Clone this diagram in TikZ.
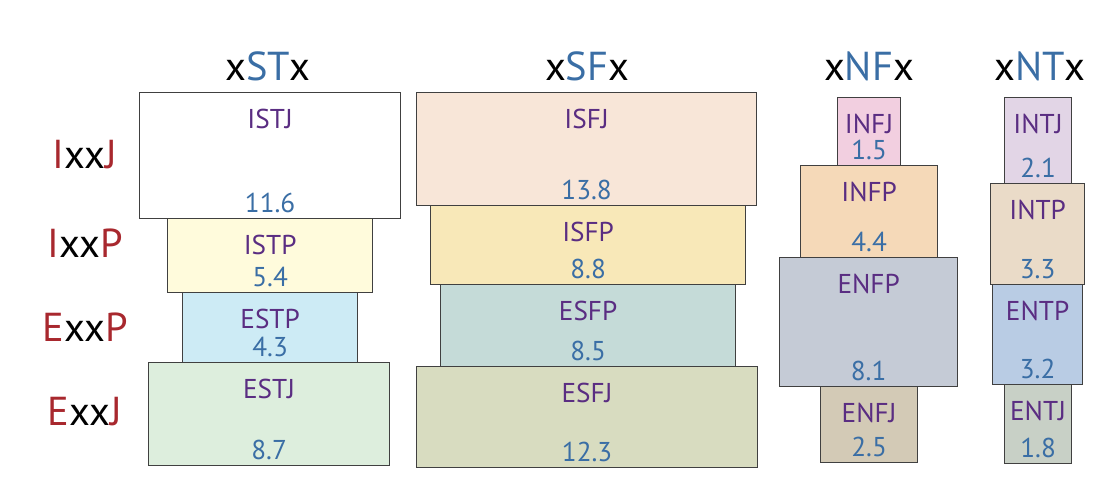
\documentclass[tikz,border=0pt]{standalone}
\usepackage{fontspec}
\setmainfont{PT Sans}
\usetikzlibrary{positioning}
\definecolor{nameC}{HTML}{5A2D82}
\definecolor{numC}{HTML}{3A6EA5}
\definecolor{hdC}{HTML}{3A6EA5}
\definecolor{rowC}{HTML}{A8282E}
\tikzset{
  tbox/.style={draw=black!75, line width=0.7pt, inner sep=0pt, anchor=north west},
  tname/.style={text=nameC, font=\fontsize{15.5}{17}\selectfont, anchor=north},
  tnum/.style={text=numC, font=\fontsize{15.5}{17}\selectfont, anchor=south},
  hd/.style={font=\fontsize{23}{26}\selectfont},
  rowlab/.style={font=\fontsize{23}{26}\selectfont}
}
% #1 name, #2-#5 x1,y1,x2,y2 (px), #6 fill (hex), #7 label, #8 value
\newcommand\mbti[8]{%
  \definecolor{fill#1}{HTML}{#6}
  \node (#1) [tbox, fill=fill#1, minimum width={(#4-#2)*0.02cm}, minimum height={(#5-#3)*0.02cm}] at (#2,#3) {};
  \node (#1-t) [tname, below=6pt of #1.north, anchor=north] {#7};
  \node (#1-n) [tnum, above=0pt of #1.south, anchor=south] {#8};
}
\begin{document}
\begin{tikzpicture}[x=0.02cm, y=-0.02cm]
  \useasboundingbox (0,0) rectangle (1116,500);
  % headers
  \node (h1) [hd] at (268,66) {x\textcolor{hdC}{ST}x};
  \node (h2) [hd] at (587,66) {x\textcolor{hdC}{SF}x};
  \node (h3) [hd] at (869,66) {x\textcolor{hdC}{NF}x};
  \node (h4) [hd] at (1040,66) {x\textcolor{hdC}{NT}x};
  % rows
  \node (r1) [rowlab] at (85,155) {\textcolor{rowC}{I}xx\textcolor{rowC}{J}};
  \node (r2) [rowlab] at (85,243) {\textcolor{rowC}{I}xx\textcolor{rowC}{P}};
  \node (r3) [rowlab] at (85,327) {\textcolor{rowC}{E}xx\textcolor{rowC}{P}};
  \node (r4) [rowlab] at (85,412) {\textcolor{rowC}{E}xx\textcolor{rowC}{J}};
  % xSTx
  \mbti{istj}{139}{92}{400}{218}{FFFFFF}{ISTJ}{11.6}
  \mbti{istp}{167}{218}{372}{292}{FFFBDC}{ISTP}{5.4}
  \mbti{estp}{182}{292}{357}{362}{CDEBF5}{ESTP}{4.3}
  \mbti{estj}{148}{362}{389}{465}{DDEEDD}{ESTJ}{8.7}
  % xSFx
  \mbti{isfj}{416}{92}{756}{205}{F8E6D8}{ISFJ}{13.8}
  \mbti{isfp}{430}{205}{745}{284}{F8E8B8}{ISFP}{8.8}
  \mbti{esfp}{440}{284}{735}{366}{C5DBD8}{ESFP}{8.5}
  \mbti{esfj}{416}{366}{757}{467}{D8DCC0}{ESFJ}{12.3}
  % xNFx
  \mbti{infj}{837}{97}{900}{165}{F2CFE0}{INFJ}{1.5}
  \mbti{infp}{800}{165}{937}{257}{F5D9B8}{INFP}{4.4}
  \mbti{enfp}{779}{257}{957}{386}{C5CBD6}{ENFP}{8.1}
  \mbti{enfj}{820}{386}{917}{462}{D3CAB6}{ENFJ}{2.5}
  % xNTx
  \mbti{intj}{1004}{97}{1071}{183}{E2D5E6}{INTJ}{2.1}
  \mbti{intp}{990}{183}{1084}{284}{EADBC8}{INTP}{3.3}
  \mbti{entp}{992}{284}{1082}{384}{B9CCE4}{ENTP}{3.2}
  \mbti{entj}{1004}{384}{1071}{463}{C8D0C6}{ENTJ}{1.8}
\end{tikzpicture}
\end{document}
